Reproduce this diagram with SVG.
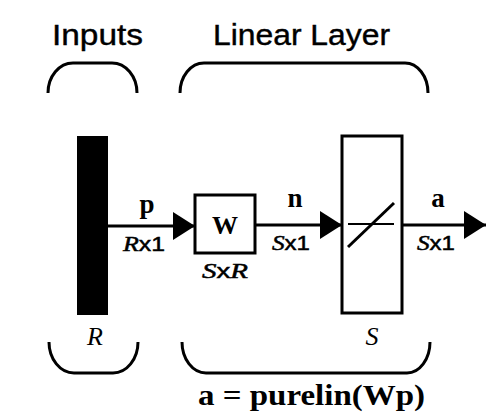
<svg xmlns="http://www.w3.org/2000/svg" width="486" height="416" viewBox="0 0 486 416">
<defs>
<style>
.ln{fill:none;stroke:#000;stroke-width:3}
.box{fill:#fff;stroke:#000;stroke-width:3}
.hd{font-family:"Liberation Sans",Arial,sans-serif;font-size:29px;fill:#000;stroke:#000;stroke-width:0.4}
.bv{font-family:"Liberation Serif","Times New Roman",serif;font-weight:bold;fill:#000}
.dim{font-family:"Liberation Sans",Arial,sans-serif;font-size:20px;fill:#000;stroke:#000;stroke-width:0.5}
.it{font-family:"Liberation Serif","Times New Roman",serif;font-style:italic}
</style>
<marker id="ah" viewBox="0 0 22 28" refX="22" refY="14" markerWidth="22" markerHeight="28" markerUnits="userSpaceOnUse" orient="auto">
<path d="M0,0 L22,14 L0,28 Z" fill="#000"/>
</marker>
</defs>
<rect width="486" height="416" fill="#fff"/>
<g id="labels">
<text class="hd" x="52" y="45" textLength="91" lengthAdjust="spacingAndGlyphs">Inputs</text>
<text class="hd" x="213" y="45" textLength="177" lengthAdjust="spacingAndGlyphs">Linear Layer</text>
<path class="ln" d="M48,93 A25,30 0 0 1 73,63 L112,63 A25,30 0 0 1 137,93"/>
<path class="ln" d="M180,93 A24,30 0 0 1 204,63 L405,63 A23,30 0 0 1 428,93"/>
<path class="ln" d="M49,342 A25,31 0 0 0 74,373 L113,373 A25,31 0 0 0 138,342"/>
<path class="ln" d="M182,342 A24,31 0 0 0 206,373 L407,373 A23,31 0 0 0 430,342"/>
<text class="bv" x="198" y="405" font-size="29" textLength="227" lengthAdjust="spacingAndGlyphs">a = purelin(Wp)</text>
</g>
<g id="connectors">
<line class="ln" x1="108" y1="226" x2="195" y2="226" marker-end="url(#ah)"/>
<line class="ln" x1="255" y1="225" x2="342" y2="225" marker-end="url(#ah)"/>
<line class="ln" x1="402" y1="225" x2="486" y2="225" marker-end="url(#ah)"/>
<text class="bv" x="147" y="213" font-size="27" text-anchor="middle">p</text>
<text class="dim" x="123" y="251" textLength="42" lengthAdjust="spacingAndGlyphs"><tspan class="it" font-size="21">R</tspan>x1</text>
<text class="bv" x="295" y="207" font-size="27" text-anchor="middle">n</text>
<text class="dim" x="272" y="250" textLength="38" lengthAdjust="spacingAndGlyphs"><tspan class="it" font-size="21">S</tspan>x1</text>
<text class="bv" x="438" y="207" font-size="27" text-anchor="middle">a</text>
<text class="dim" x="417" y="250" textLength="38" lengthAdjust="spacingAndGlyphs"><tspan class="it" font-size="21">S</tspan>x1</text>
</g>
<g id="input">
<rect x="77" y="136" width="31" height="179" fill="#000"/>
<text class="it" x="95" y="345" font-size="26" text-anchor="middle">R</text>
</g>
<g id="weight">
<rect class="box" x="195" y="195" width="60" height="58"/>
<text class="bv" x="225" y="234" font-size="26" text-anchor="middle">W</text>
<text class="dim" x="202" y="278" textLength="46" lengthAdjust="spacingAndGlyphs"><tspan class="it" font-size="21">S</tspan>x<tspan class="it" font-size="21">R</tspan></text>
</g>
<g id="transfer">
<rect class="box" x="342" y="136" width="60" height="177"/>
<line x1="348" y1="224" x2="394" y2="224" stroke="#000" stroke-width="2"/>
<line x1="348" y1="247" x2="394" y2="203" stroke="#000" stroke-width="3"/>
<text class="it" x="372" y="345" font-size="26" text-anchor="middle">S</text>
</g>
</svg>
